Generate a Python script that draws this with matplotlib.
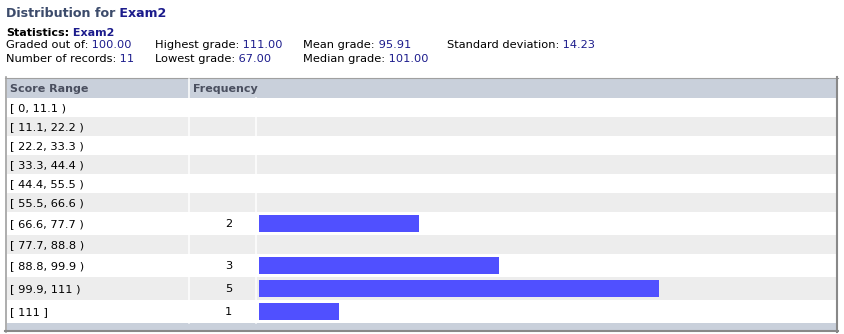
import matplotlib
matplotlib.use("Agg")
import matplotlib.pyplot as plt
from matplotlib.patches import Rectangle

# data
exam = "Exam2"
score_ranges = ["[ 0, 11.1 )", "[ 11.1, 22.2 )", "[ 22.2, 33.3 )", "[ 33.3, 44.4 )",
                "[ 44.4, 55.5 )", "[ 55.5, 66.6 )", "[ 66.6, 77.7 )", "[ 77.7, 88.8 )",
                "[ 88.8, 99.9 )", "[ 99.9, 111 )", "[ 111 ]"]
frequency = [0, 0, 0, 0, 0, 0, 2, 0, 3, 5, 1]

stat_labels = [["Graded out of:", "Number of records:"],
               ["Highest grade:", "Lowest grade:"],
               ["Mean grade:", "Median grade:"],
               ["Standard deviation:"]]
stat_values = [["100.00", "11"],
               ["111.00", "67.00"],
               ["95.91", "101.00"],
               ["14.23"]]

W, H = 844, 334
plt.rcParams['font.family'] = ['DejaVu Sans']
fig = plt.figure(figsize=(W / 100, H / 100), dpi=100)
ax = fig.add_axes([0, 0, 1, 1])
ax.set_xlim(0, W)
ax.set_ylim(H, 0)
ax.axis("off")

navy = "#1c1c8c"
fs = 8.2

def label_value(x, y, label, value, size=fs, weight="normal", lcolor="black", vcolor=navy):
    t = ax.text(x, y, label, fontsize=size, fontweight=weight, color=lcolor, va="center", ha="left")
    ax.annotate(" " + value, xy=(1, 0), xycoords=t, va="bottom", ha="left",
                fontsize=size, fontweight=weight, color=vcolor)

# heading
label_value(6, 13.5, "Distribution for", exam, size=9.1, weight="bold", lcolor="#3c4b6b")
label_value(6, 32.5, "Statistics:", exam, size=8.0, weight="bold")

col_x = [6, 155, 303, 447]
line_y = [45.5, 58.5]
for cx, labs, vals in zip(col_x, stat_labels, stat_values):
    for ly, lab, val in zip(line_y, labs, vals):
        label_value(cx, ly, lab, val)

# table frame
left, right = 7, 836
top, head_h = 79, 19
ax.add_patch(Rectangle((5, 77), 833, 255, facecolor="white", edgecolor="none"))
ax.plot([5, 838], [77.5, 77.5], color="#a0a0a0", lw=0.8)
ax.plot([5.8, 5.8], [77, 332], color="#a0a0a0", lw=1.2)
ax.plot([837, 837], [77, 332], color="#888888", lw=1.5)
ax.plot([5, 838], [331, 331], color="#888888", lw=1.5)

header_bg = "#c9d0db"
ax.add_patch(Rectangle((left, top), right - left, head_h, facecolor=header_bg, edgecolor="none"))
ax.text(10, top + head_h / 2 + 0.5, "Score Range", fontsize=8.0, fontweight="bold",
        color="#4a4f5f", va="center")
ax.text(193, top + head_h / 2 + 0.5, "Frequency", fontsize=8.0, fontweight="bold",
        color="#4a4f5f", va="center")

div1, div2 = 188.6, 255.5
bar_left = 259
bar_px = 400 / max(frequency)

y = top + head_h
centers = []
for i, (lab, n) in enumerate(zip(score_ranges, frequency)):
    h = 23 if n else 19
    bg = "#ededed" if i % 2 else "white"
    ax.add_patch(Rectangle((left, y), right - left, h, facecolor=bg, edgecolor="none"))
    ax.text(10, y + h / 2 + 0.5, lab, fontsize=fs, color="black", va="center")
    if n:
        ax.text(232, y + h / 2 + 0.5, str(n), fontsize=fs, color="black", va="center", ha="right")
    centers.append(y + h / 2)
    y += h

ax.add_patch(Rectangle((left, y), right - left, 330 - y, facecolor=header_bg, edgecolor="none"))
ax.plot([div1, div1], [top, y], color="white", lw=1.1)
ax.plot([div2, div2], [top + head_h, y], color="white", lw=1.1)

ax.barh(centers, [n * bar_px for n in frequency], left=bar_left, height=17,
        color="#5050ff", edgecolor="none")

fig.savefig("out.png", dpi=100)
